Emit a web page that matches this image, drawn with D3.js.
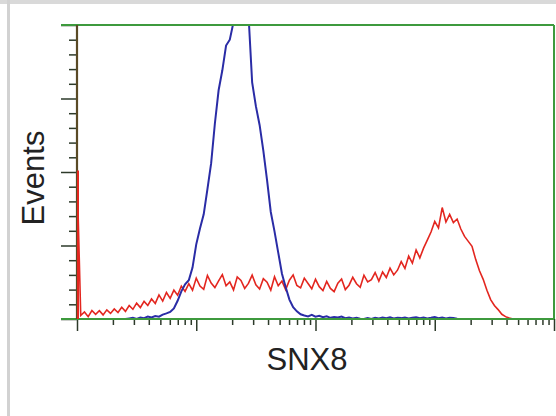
<!DOCTYPE html>
<html>
<head>
<meta charset="utf-8">
<script src="https://cdn.jsdelivr.net/npm/d3@7"></script>
<style>
  body { margin: 0; background: #fff; }
  svg { display: block; }
</style>
</head>
<body>
<svg></svg>
<script>
let width = 556
let height = 416
let svg = d3.select('svg')

// histogram bins, 8 channels wide, over 1024 channels (4 log decades)
let channels = [
  0, 8, 16, 24, 32, 40, 48, 56, 64, 72, 80, 88, 96, 104, 112, 120,
  128, 136, 144, 152, 160, 168, 176, 184, 192, 200, 208, 216, 224, 232, 240, 248,
  256, 264, 272, 280, 288, 296, 304, 312, 320, 328, 336, 344, 352, 360, 368, 376,
  384, 392, 400, 408, 416, 424, 432, 440, 448, 456, 464, 472, 480, 488, 496, 504,
  512, 520, 528, 536, 544, 552, 560, 568, 576, 584, 592, 600, 608, 616, 624, 632,
  640, 648, 656, 664, 672, 680, 688, 696, 704, 712, 720, 728, 736, 744, 752, 760,
  768, 776, 784, 792, 800, 808, 816, 824, 832, 840, 848, 856, 864, 872, 880, 888,
  896, 904, 912, 920, 928, 936, 944, 952, 960, 968, 976, 984, 992, 1000, 1008, 1016
]

// SNX8 transfected (red)
let redCounts = [
  50.5, 1.2, 2.4, 0.8, 2.9, 1.6, 2.8, 1.4, 3.1, 1.9, 3.4, 2.2, 4.0, 2.6, 4.6, 3.3,
  5.4, 3.9, 6.0, 4.6, 6.8, 5.3, 8.2, 6.1, 9.0, 7.0, 9.8, 8.1, 11.2, 9.4, 12.0, 9.8,
  13.9, 11.2, 10.1, 14.8, 12.2, 10.7, 13.0, 15.1, 11.3, 12.6, 9.9, 14.3, 13.1, 10.4, 12.1, 14.9,
  11.6, 10.2, 13.7, 12.5, 9.8, 14.4, 11.3, 12.9, 10.0, 13.2, 15.0, 11.4, 10.6, 13.9, 12.1, 10.3,
  13.5, 11.0, 9.7, 12.8, 10.4, 9.3, 12.2, 13.6, 10.0, 11.5, 14.2, 12.0, 10.8, 14.9, 12.6, 13.4,
  15.8, 12.9, 16.0, 14.1, 17.3, 15.0, 16.6, 19.5, 17.2, 21.4, 19.0, 23.5, 20.8, 24.1, 26.8, 29.6,
  33.2, 31.0, 37.9, 33.0, 35.6, 32.8, 34.0, 30.6, 28.1, 26.4, 24.7, 20.2, 16.4, 13.5, 9.8, 6.6,
  4.6, 3.2, 1.6, 0.8, 0.3, 0, 0, 0, 0, 0, 0, 0, 0, 0, 0, 0
]

// negative control (blue)
let blueCounts = [
  0, 0, 0, 0, 0, 0, 0, 0, 0, 0, 0, 0, 0, 0, 0.2, 0.4,
  0, 0.5, 0.3, 0.8, 0.5, 1.0, 0.8, 1.5, 1.9, 2.4, 3.6, 6.2, 9.4, 11.8, 13.2, 17.5,
  25.4, 30.8, 35.6, 44.2, 53.0, 66.5, 77.8, 84.6, 93.0, 95.0, 101, 118, 121, 114, 104, 80.5,
  72.4, 66.0, 57.3, 47.2, 36.4, 29.8, 22.6, 15.4, 10.8, 6.6, 4.0, 2.6, 1.6, 1.2, 0.9, 1.4,
  0.8, 1.1, 0.6, 0.9, 0.4, 0.7, 0.5, 0.8, 0.3, 0.5, 0.2, 0.4, 0.1, 0, 0.3, 0,
  0.4, 0.2, 0.5, 0.3, 0.6, 0.2, 0.4, 0.3, 0.5, 0.2, 0.4, 0.6, 0.3, 0.5, 0.2, 0.4,
  0.7, 0.3, 0.5, 0.2, 0.4, 0.3, 0.1, 0, 0, 0, 0, 0, 0, 0, 0, 0,
  0, 0, 0, 0, 0, 0, 0, 0, 0, 0, 0, 0, 0, 0, 0, 0
]

let yMajor = [0, 25, 50, 75, 100]
let yMinor = [5, 10, 15, 20, 30, 35, 40, 45, 55, 60, 65, 70, 80, 85, 90, 95]
let xMajor = [1, 10, 100, 1000, 10000]
let xMinor = [2, 3, 4, 5, 6, 7, 8, 9, 20, 30, 40, 50, 60, 70, 80, 90,
  200, 300, 400, 500, 600, 700, 800, 900, 2000, 3000, 4000, 5000, 6000, 7000, 8000, 9000]

let plotLeft = 77, plotRight = 554, plotTop = 25, plotBottom = 319

svg.attr('width', width).attr('height', height)

// page border bits
svg.append('rect').attr('x', 0).attr('y', 0).attr('width', width).attr('height', 4).attr('fill', '#d9d9d9')
svg.append('rect').attr('x', 7).attr('y', 0).attr('width', 3).attr('height', height).attr('fill', '#d2d2d2')

let chScale = d3.scaleLinear().domain([0, 1024]).range([plotLeft, plotRight])
let xScale = d3.scaleLog().domain([1, 10000]).range([plotLeft, plotRight])
let yScale = d3.scaleLinear().domain([0, 100]).range([plotBottom, plotTop])

svg.append('clipPath').attr('id', 'plot')
  .append('rect').attr('x', plotLeft).attr('y', plotTop)
  .attr('width', plotRight - plotLeft).attr('height', plotBottom - plotTop)

let line = (counts) => d3.line()
  .x((d, i) => chScale(channels[i]))
  .y((d) => yScale(d))(counts)

svg.append('path')
  .attr('d', line(redCounts))
  .attr('clip-path', 'url(#plot)')
  .attr('fill', 'none')
  .attr('stroke', '#e3261f')
  .attr('stroke-width', 1.6)

svg.append('path')
  .attr('d', line(blueCounts))
  .attr('clip-path', 'url(#plot)')
  .attr('fill', 'none')
  .attr('stroke', '#2a2ca6')
  .attr('stroke-width', 2)

// ticks, no labels
let tickStyle = (g) => {
  g.select('.domain').remove()
  g.selectAll('line').attr('stroke', '#2d3a2a').attr('stroke-width', 1.5)
  g.selectAll('text').remove()
}
svg.append('g').attr('transform', 'translate(0,' + plotBottom + ')')
  .call(d3.axisBottom(xScale).tickValues(xMajor).tickSize(12).tickFormat(''))
  .call(tickStyle)
svg.append('g').attr('transform', 'translate(0,' + plotBottom + ')')
  .call(d3.axisBottom(xScale).tickValues(xMinor).tickSize(6).tickFormat(''))
  .call(tickStyle)

svg.append('g').attr('transform', 'translate(' + plotLeft + ',0)')
  .call(d3.axisLeft(yScale).tickValues(yMajor).tickSize(16).tickFormat(''))
  .call(tickStyle)
svg.append('g').attr('transform', 'translate(' + plotLeft + ',0)')
  .call(d3.axisLeft(yScale).tickValues(yMinor).tickSize(8).tickFormat(''))
  .call(tickStyle)

// frame
let frame = '#3d9a3d'
svg.append('line').attr('x1', plotLeft - 16).attr('x2', plotRight).attr('y1', plotTop).attr('y2', plotTop)
  .attr('stroke', frame).attr('stroke-width', 2.2)
svg.append('line').attr('x1', plotRight).attr('x2', plotRight).attr('y1', plotTop).attr('y2', plotBottom)
  .attr('stroke', frame).attr('stroke-width', 2)
svg.append('line').attr('x1', plotLeft - 16).attr('x2', plotRight).attr('y1', plotBottom).attr('y2', plotBottom)
  .attr('stroke', frame).attr('stroke-width', 2.2)
svg.append('line').attr('x1', plotLeft).attr('x2', plotLeft).attr('y1', plotTop).attr('y2', plotBottom)
  .attr('stroke', '#5a4a26').attr('stroke-width', 2.2)

// the red first-channel spike sits on top of the left axis
svg.append('line')
  .attr('x1', chScale(channels[0]) + 1).attr('x2', chScale(channels[0]) + 1)
  .attr('y1', yScale(redCounts[0])).attr('y2', plotBottom)
  .attr('stroke', '#e3261f').attr('stroke-width', 2)

// labels
svg.append('text')
  .attr('x', 307).attr('y', 370)
  .attr('text-anchor', 'middle')
  .attr('font-family', 'Liberation Sans, Arial, sans-serif')
  .attr('font-size', 31)
  .attr('fill', '#222')
  .text('SNX8')

svg.append('text')
  .attr('transform', 'translate(44,178) rotate(-90)')
  .attr('text-anchor', 'middle')
  .attr('font-family', 'Liberation Sans, Arial, sans-serif')
  .attr('font-size', 31)
  .attr('fill', '#222')
  .text('Events')
</script>
</body>
</html>
